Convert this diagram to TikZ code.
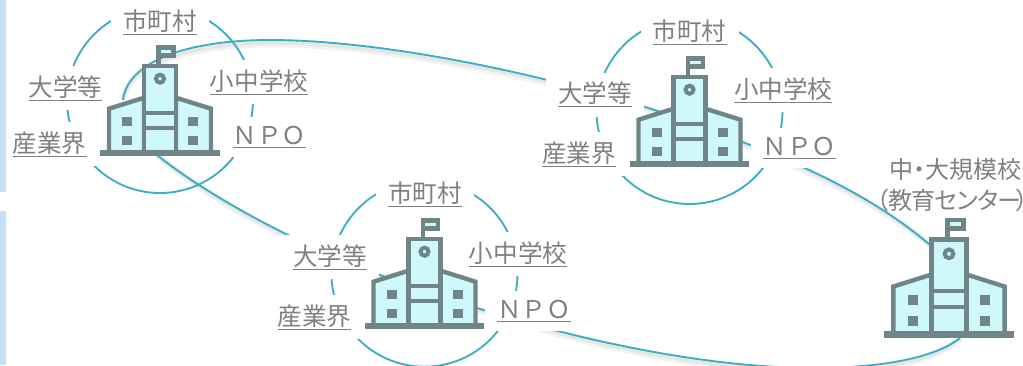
\documentclass[tikz,border=0pt]{standalone}
\usepackage{fontspec}
\setmainfont{Noto Sans CJK JP}
\newfontfamily\cjkp[RawFeature=+palt]{Noto Sans CJK JP}
\newfontfamily\cjkq[RawFeature=+palt,LetterSpace=-3]{Noto Sans CJK JP}
\definecolor{bldline}{HTML}{6F8587}
\definecolor{bldfill}{HTML}{CFF8FA}
\definecolor{teal}{HTML}{3AAEC3}
\definecolor{txtgray}{HTML}{808080}
\definecolor{strip}{HTML}{C7E0F9}
\tikzset{
  school/.pic={
    \begin{scope}[draw=bldline,line width=3.3pt,fill=bldfill,line join=miter]
      \filldraw (-51,-3) -- (-51,-47) -- (-16,-58) -- (-16,-3) -- cycle;
      \filldraw (51,-3) -- (51,-47) -- (16,-58) -- (16,-3) -- cycle;
      \filldraw (-16,-3) rectangle (16,-90);
      \draw (-16,-43) -- (16,-43);
      \draw (-16,-28) -- (16,-28);
      \draw (-1.5,-90) -- (-1.5,-99);
      \filldraw[line width=3.4pt] (-1.5,-108) rectangle (13.5,-100);
      \filldraw[line width=3pt] (0,-77) circle (4);
    \end{scope}
    \fill[bldline] (-60,-5.7) rectangle (59.5,0);
    \fill[bldline] (-38,-39) rectangle (-28,-30);
    \fill[bldline] (-38,-20) rectangle (-28,-11);
    \fill[bldline] (28,-39) rectangle (38,-30);
    \fill[bldline] (28,-20) rectangle (38,-11);
  },
  lab/.style={anchor=south,yshift=-1.1pt,fill=white,text=txtgray,font=\fontsize{18.4pt}{20pt}\selectfont,
    inner xsep=9pt,inner ysep=7pt},
  ring/.style={draw=teal,line width=1.4pt},
  link/.style={draw=teal,line width=1.4pt},
  linkshadow/.style={draw=black,opacity=.05,line width=5pt,shift={(1,4)}},
  linkshadowb/.style={draw=black,opacity=.05,line width=2.5pt,shift={(1,3)}},
  cap4/.style={text=txtgray,font=\cjkp\fontsize{18pt}{20pt}\selectfont,inner sep=0pt},
  cap5/.style={text=txtgray,font=\cjkq\fontsize{18pt}{20pt}\selectfont,inner sep=0pt}
}
\begin{document}
\begin{tikzpicture}[x=.75pt,y=-.75pt]
\useasboundingbox (0,0) rectangle (1023,365);
% anchors on the closed loop
\coordinate (a) at (123,100);
\coordinate (a2) at (157,155);
\coordinate (b) at (424,290);
\coordinate (c) at (695,124);
\coordinate (d) at (930,245);
\coordinate (d2) at (960,338);
% shadows
\foreach \s in {linkshadow,linkshadowb}{
\draw[\s] (c) .. controls (590,85) and (400,40) .. (270,40) .. controls (190,40) and (128,60) .. (a);
\draw[\s] (a2) .. controls (210,198) and (320,258) .. (b);
\draw[\s] (c) .. controls (770,152) and (860,185) .. (d);
\draw[\s] (b) .. controls (520,325) and (680,368) .. (815,368) .. controls (880,368) and (935,358) .. (d2);
}
% links
\draw[link] (c) .. controls (590,85) and (400,40) .. (270,40) .. controls (190,40) and (128,60) .. (a);
\draw[link] (a2) .. controls (210,198) and (320,258) .. (b);
\draw[link] (c) .. controls (770,152) and (860,185) .. (d);
\draw[link] (b) .. controls (520,325) and (680,368) .. (815,368) .. controls (880,368) and (935,358) .. (d2);
% rings
\node[ring,circle,minimum size=186*.75pt,inner sep=0pt] (r1) at (160,100) {};
\node[ring,circle,minimum size=186*.75pt,inner sep=0pt] (r2) at (424.5,273.7) {};
\node[ring,circle,minimum size=186*.75pt,inner sep=0pt] (r3) at (689.5,111) {};
% labels building 1
\node[lab] (m1) at (160,43) {\underline{市町村}};
\node[lab] (u1) at (65.5,109) {\underline{大学等}};
\node[lab] (i1) at (49.7,165) {\underline{産業界}};
\node[lab] (s1) at (259,103) {\underline{小中学校}};
\node[lab] (n1) at (269.5,156) {\underline{ＮＰＯ}};
% labels building 2
\node[lab] (m2) at (424.8,215) {\underline{市町村}};
\node[lab] (u2) at (330,278) {\underline{大学等}};
\node[lab] (i2) at (314.5,338) {\underline{産業界}};
\node[lab] (s2) at (518,275) {\underline{小中学校}};
\node[lab] (n2) at (534,330) {\underline{ＮＰＯ}};
% labels building 3
\node[lab] (m3) at (689.7,53) {\underline{市町村}};
\node[lab] (u3) at (595,115.5) {\underline{大学等}};
\node[lab] (i3) at (579,175) {\underline{産業界}};
\node[lab] (s3) at (783.3,111) {\underline{小中学校}};
\node[lab] (n3) at (799.5,167) {\underline{ＮＰＯ}};
% left strips
\fill[strip] (0,0) rectangle (6,191.5);
\fill[strip] (0,211) rectangle (6,365);
% buildings
\pic at (160,155.7) {school};
\pic at (424.5,328.7) {school};
\pic at (689.5,166.7) {school};
\pic[scale=1.09] at (949,337.7) {school};
% large school caption
\node[cap4,anchor=east] (t1) at (1022,169.5) {中・大規模校};
\node[cap5,anchor=east] (t2) at (1021.5,200) {（教育センター\kern-.2em ）\kern-.3em};
\end{tikzpicture}
\end{document}
